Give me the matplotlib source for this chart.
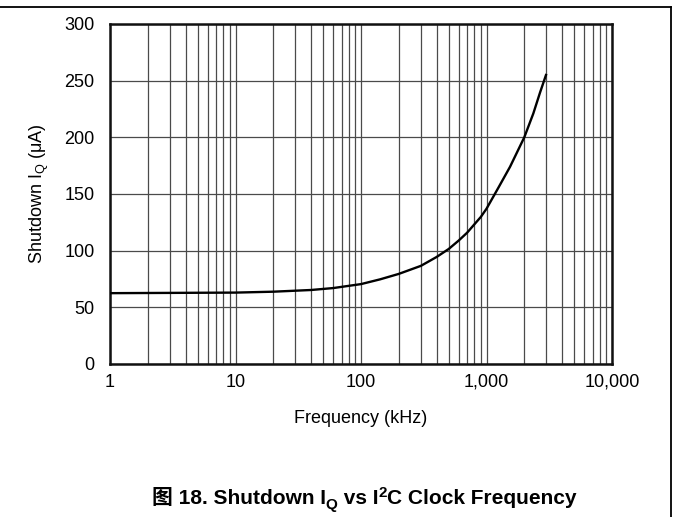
import matplotlib
matplotlib.use("Agg")
import matplotlib.pyplot as plt
from matplotlib.lines import Line2D
from matplotlib.ticker import FixedLocator, FuncFormatter, LogLocator, NullFormatter

plt.rcParams['font.family'] = ['Liberation Sans', 'Noto Sans CJK SC', 'DejaVu Sans']
plt.rcParams['mathtext.fontset'] = 'custom'
plt.rcParams['mathtext.rm'] = 'Liberation Sans'
plt.rcParams['mathtext.it'] = 'Liberation Sans:italic'
plt.rcParams['mathtext.bf'] = 'Liberation Sans:bold'
plt.rcParams['mathtext.default'] = 'regular'

# Data
freq_khz = [1, 10, 20, 40, 60, 100, 142, 200, 300, 400, 500, 600, 700, 800, 900,
            1000, 1250, 1540, 2000, 2360, 2670, 3000]
iq_ua = [62.5, 63, 63.8, 65.3, 67, 70.5, 74.7, 79.5, 86.6, 94.4, 101.5, 108.9, 115.8, 123.2, 129.7,
         137, 156, 174, 200, 221, 239.5, 256]
x_ticks = [1, 10, 100, 1000, 10000]
x_tick_labels = ["1", "10", "100", "1,000", "10,000"]
y_ticks = [0, 50, 100, 150, 200, 250, 300]

W, H = 673, 517
fig = plt.figure(figsize=(W / 100, H / 100), dpi=100)
ax = fig.add_axes([110 / W, 1 - 364 / H, (612 - 110) / W, (364 - 24) / H])

ax.set_xscale('log')
ax.set_xlim(1, 10000)
ax.set_ylim(0, 300)

ax.plot(freq_khz, iq_ua, color='black', lw=1.7, solid_capstyle='butt', solid_joinstyle='round', zorder=3)

ax.xaxis.set_major_locator(FixedLocator(x_ticks))
ax.xaxis.set_major_formatter(FuncFormatter(lambda v, p: x_tick_labels[x_ticks.index(int(round(v)))] if int(round(v)) in x_ticks else ""))
ax.xaxis.set_minor_locator(LogLocator(base=10, subs=range(2, 10)))
ax.xaxis.set_minor_formatter(NullFormatter())
ax.set_yticks(y_ticks)

ax.grid(True, which='both', axis='x', color='#4a4a4a', lw=0.9)
ax.grid(True, which='major', axis='y', color='#4a4a4a', lw=0.9)
ax.set_axisbelow(True)

ax.tick_params(axis='both', which='both', length=0, labelsize=13, colors='black')
ax.tick_params(axis='x', pad=7)
ax.tick_params(axis='y', pad=11)
for s in ax.spines.values():
    s.set_linewidth(1.8)
    s.set_color('#111111')

ax.set_xlabel("Frequency (kHz)", fontsize=13, labelpad=14)
ax.set_ylabel(r"Shutdown I$_{Q}$ ($\mu$A)", fontsize=13, labelpad=10)

# Figure frame (top and right)
fig.add_artist(Line2D([0, 671 / W], [1 - 7 / H, 1 - 7 / H], transform=fig.transFigure, color='black', lw=1.3))
fig.add_artist(Line2D([671 / W, 671 / W], [1 - 7 / H, 0], transform=fig.transFigure, color='black', lw=1.3))

# Caption built from pieces
fig.canvas.draw()
renderer = fig.canvas.get_renderer()
pieces = [
    ("图 18. Shutdown I", 0, 15),
    ("Q", -5, 11),
    (" vs I", 0, 15),
    ("2", 7, 11),
    ("C Clock Frequency", 0, 15),
]
base_y = H - 504
texts = []
x = 0
for s, dy, fs in pieces:
    t = fig.text(x / W, (base_y + dy) / H, s, fontsize=fs, fontweight='bold', ha='left', va='baseline')
    bb = t.get_window_extent(renderer)
    texts.append(t)
    x += bb.width
total = x
x = 364 - total / 2
for t in texts:
    bb = t.get_window_extent(renderer)
    t.set_x(x / W)
    x += bb.width

fig.savefig("out.png", dpi=100)
